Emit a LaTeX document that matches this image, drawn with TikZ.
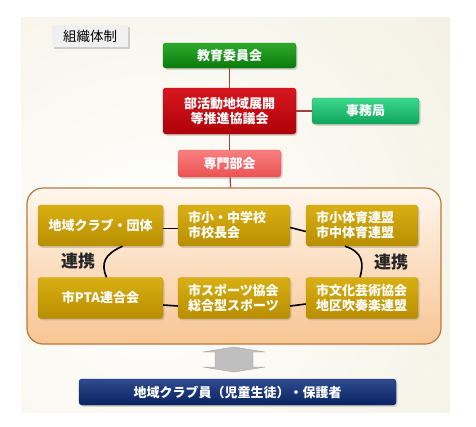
\documentclass[tikz,border=0pt]{standalone}
\usepackage{fontspec}
\setmainfont{Noto Sans CJK JP}
\usetikzlibrary{shadows}

\definecolor{bgbeige}{HTML}{E8E3C6}
\definecolor{edutop}{HTML}{2EAA2E}
\definecolor{edubot}{HTML}{0A7A0A}
\definecolor{redtop}{HTML}{D81820}
\definecolor{redbot}{HTML}{AE0008}
\definecolor{offtop}{HTML}{3CD88E}
\definecolor{offbot}{HTML}{10A45C}
\definecolor{exptop}{HTML}{F88080}
\definecolor{expbot}{HTML}{EC5252}
\definecolor{goldtop}{HTML}{D8B014}
\definecolor{goldbot}{HTML}{B88E00}
\definecolor{bluetop}{HTML}{2E4C90}
\definecolor{bluebot}{HTML}{0A2260}
\definecolor{paneltop}{HTML}{FEF7EE}
\definecolor{panelbot}{HTML}{F8C592}
\definecolor{panelline}{HTML}{B8783C}
\definecolor{treeline}{HTML}{A0403A}

\begin{document}
\begin{tikzpicture}[x=1pt,y=-1pt,
    box/.style={rounded corners=3pt, text=white, inner sep=0pt, align=center,
      font=\fontsize{13}{15}\selectfont\bfseries,
      drop shadow={shadow xshift=1.5pt,shadow yshift=-1.8pt,opacity=.3}},
    goldbox/.style={box, top color=goldtop, bottom color=goldbot, draw=goldbot,
      minimum width=125pt, minimum height=41pt},
    goldleft/.style={goldbox, text width=92pt, align=left, inner xsep=10pt, minimum width=112pt},
    tie/.style={draw=treeline, line width=1.2pt},
    link/.style={draw=black, line width=1.6pt},
    linktext/.style={text=black!85, font=\fontsize{17}{17}\selectfont\bfseries}]
  \useasboundingbox (0,0) rectangle (476,426);
  % background
  \begin{scope}
    \clip (21,17) rectangle (450,412);
    \shade[inner color=white, outer color=bgbeige] (150,260) circle (800);
  \end{scope}
  \node[fill=black!6, inner sep=0pt, minimum width=76pt, minimum height=22pt,
    font=\fontsize{13.5}{14}\selectfont,
    drop shadow={shadow xshift=1.5pt,shadow yshift=-1.5pt,opacity=.35}] (title) at (90,36) {組織体制};
  % top part
  \node[box, top color=edutop, bottom color=edubot, draw=edubot, minimum width=133pt, minimum height=25pt] (edu) at (229.5,55.5) {教育委員会};
  \node[box, top color=redtop, bottom color=redbot, draw=redbot, minimum width=133pt, minimum height=46pt] (council) at (229.5,111) {部活動地域展開\\等推進協議会};
  \node[box, top color=offtop, bottom color=offbot, draw=offbot, minimum width=107pt, minimum height=26pt] (office) at (365.5,111) {事務局};
  \node[box, top color=exptop, bottom color=expbot, draw=expbot, minimum width=103pt, minimum height=27pt] (expert) at (229.5,163.5) {専門部会};
  \node[draw=panelline, line width=1.2pt, rounded corners=16pt, top color=paneltop, bottom color=panelbot,
    minimum width=414pt, minimum height=156pt] (panel) at (234,266) {};
  \draw[tie] (edu) -- (council);
  \draw[tie] (council) -- (expert);
  \draw[tie] (expert) -- (panel);
  \draw[tie] (council) -- (office);
  % member groups
  \node[goldbox] (club) at (100.5,225.5) {地域クラブ・団体};
  \node[goldleft] (school) at (234,225.5) {市小・中学校\\市校長会};
  \node[goldleft] (sports) at (362,225.5) {市小体育連盟\\市中体育連盟};
  \node[goldbox] (pta) at (100.5,298) {市PTA連合会};
  \node[goldleft] (assoc) at (234,298) {市スポーツ協会\\総合型スポーツ};
  \node[goldleft] (culture) at (362,298) {市文化芸術協会\\地区吹奏楽連盟};
  \draw[link] ([yshift=-3pt]club.east) -- ([yshift=-3pt]school.west);
  \draw[link] ([yshift=-2pt]school.east) -- ([yshift=-6pt]sports.west);
  \draw[link] ([yshift=-7pt]pta.east) -- ([yshift=-8pt]assoc.west);
  \draw[link] ([yshift=-8pt]assoc.east) -- ([yshift=-6pt]culture.west);
  \draw[link] ([xshift=22pt]club.south) .. controls +(-18,8) and +(-6,-14) .. ([xshift=6pt]pta.north);
  \draw[link] ([xshift=-17pt]sports.south) .. controls +(18,6) and +(4,-14) .. ([xshift=-2pt]culture.north);
  \node[linktext] (leftlink) at (78,261) {連携};
  \node[linktext] (rightlink) at (391,262) {連携};
  % members
  \draw[draw=black!35, fill=black!25] (234,347) -- (265,352) -- (253,352) -- (253,367) -- (265,367)
    -- (234,372) -- (203,367) -- (215,367) -- (215,352) -- (203,352) -- cycle;
  \node[box, top color=bluetop, bottom color=bluebot, draw=bluebot, minimum width=317pt, minimum height=26pt] (members) at (237.5,392) {地域クラブ員（児童生徒）・保護者};
\end{tikzpicture}
\end{document}
